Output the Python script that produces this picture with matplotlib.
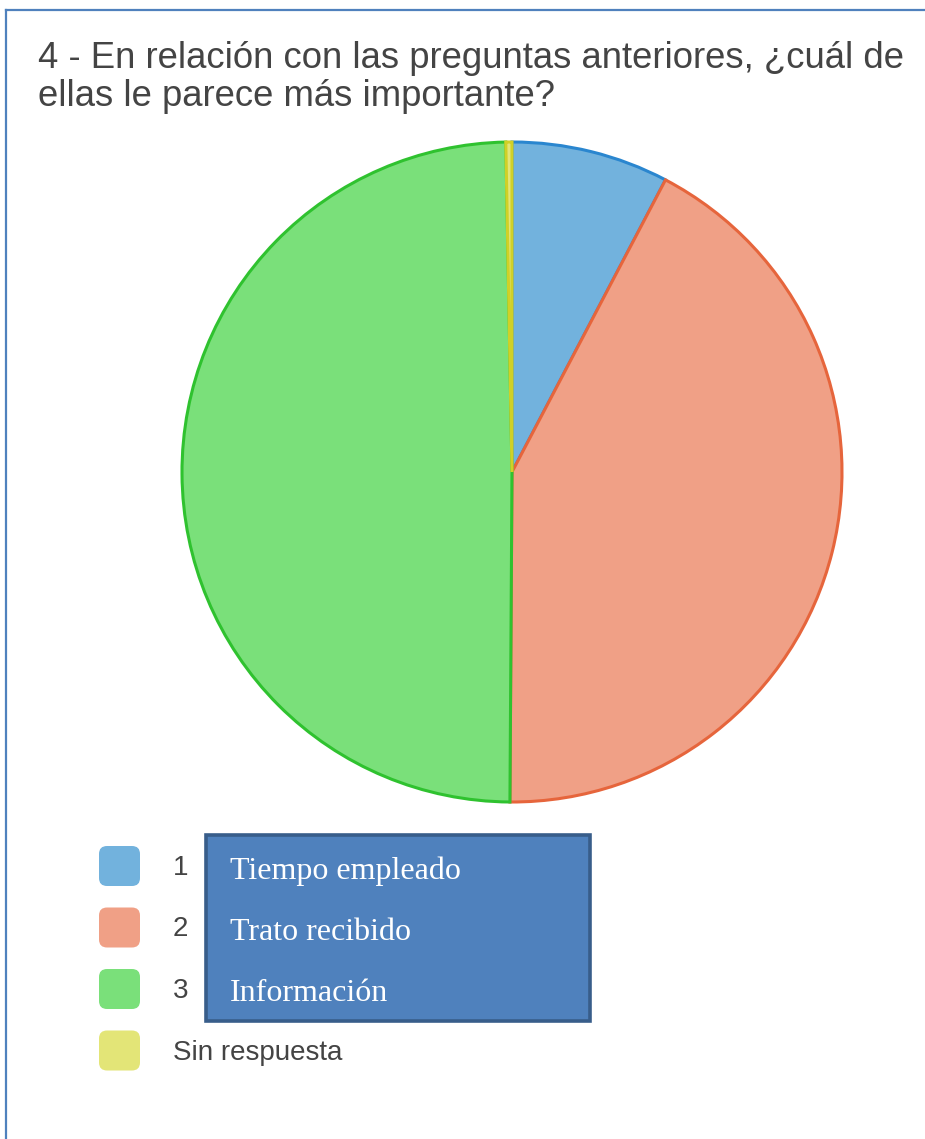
import matplotlib.pyplot as plt
from matplotlib.patches import FancyBboxPatch, Rectangle

W = 925
H = 1139

titulo = "4 - En relación con las preguntas anteriores, ¿cuál de\nellas le parece más importante?"
categorias = ["1", "2", "3", "Sin respuesta"]
valores = [7.7, 42.4, 49.6, 0.3]
relleno = ["#72b2dd", "#f0a086", "#7ae07a", "#e3e577"]
borde = ["#2a86cf", "#e6653c", "#2fc22f", "#d0d027"]
cuadro_textos = ["Tiempo empleado", "Trato recibido", "Información"]

fig = plt.figure(figsize=(W / 100, H / 100), dpi=100)
ax = fig.add_axes([0, 0, 1, 1])

# marco azul (solo arriba e izquierda visibles)
ax.plot([6, W + 5], [H - 10, H - 10], color="#4f81bd", lw=1.6)
ax.plot([6, 6], [H - 10, -5], color="#4f81bd", lw=1.6)

# titulo
ax.text(38, H - 41, titulo, fontsize=26.3, color="#444444", family="Liberation Sans",
        va="top", ha="left", linespacing=1.1)

# tarta
wedges, _ = ax.pie(valores, colors=relleno, startangle=90, counterclock=False,
                   center=(512, H - 472), radius=330, frame=True,
                   wedgeprops=dict(linewidth=2.2))
for w, c in zip(wedges, borde):
    w.set_edgecolor(c)
ax.set_xlim(0, W)
ax.set_ylim(0, H)
ax.set_aspect("equal")
ax.axis("off")

# leyenda
y0 = 866
paso = 61.5
for i, (cat, col) in enumerate(zip(categorias, relleno)):
    yc = y0 + i * paso
    caja = FancyBboxPatch((101, H - yc - 18), 37, 36,
                          boxstyle="round,pad=2,rounding_size=8",
                          fc=col, ec="none")
    ax.add_patch(caja)
    ax.text(173, H - yc - 2, cat, fontsize=20, color="#444444",
            family="Liberation Sans", va="center", ha="left")

# cuadro azul superpuesto
ax.add_patch(Rectangle((206, H - 1021), 384, 186, fc="#4f81bd", ec="#385d8a", lw=2.6))
for i, t in enumerate(cuadro_textos):
    ax.text(230, H - (879 + i * 61), t, fontsize=23, color="white",
            family="Liberation Serif", va="baseline", ha="left")

fig.savefig("out.png", dpi=100)
